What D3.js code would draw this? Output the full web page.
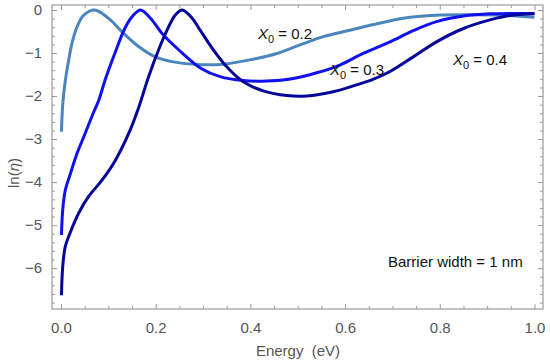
<!DOCTYPE html>
<html>
<head>
<meta charset="utf-8">
<script src="https://cdn.jsdelivr.net/npm/d3@7"></script>
<style>
  html, body { margin: 0; padding: 0; background: #fff; }
  svg { display: block; font-family: "Liberation Sans", Arial, sans-serif; }
</style>
</head>
<body>
<div id="chart"></div>
<script>
// ---- data ----
const energyA = [0.001, 0.0036, 0.009, 0.016, 0.023, 0.034, 0.048, 0.071, 0.10, 0.132, 0.164, 0.199, 0.234, 0.296, 0.343, 0.399, 0.456, 0.505, 0.554, 0.610, 0.655, 0.723, 0.793, 0.864, 0.934, 1.0];
const lnEtaA  = [-2.83, -2.2, -1.65, -1.18, -0.78, -0.39, -0.12, 0, -0.19, -0.54, -0.85, -1.09, -1.20, -1.27, -1.26, -1.16, -1.01, -0.81, -0.62, -0.47, -0.35, -0.19, -0.12, -0.11, -0.12, -0.17];

const energyB = [0.001, 0.0036, 0.009, 0.020, 0.034, 0.051, 0.068, 0.080, 0.094, 0.115, 0.136, 0.153, 0.168, 0.189, 0.213, 0.249, 0.296, 0.336, 0.385, 0.434, 0.491, 0.540, 0.589, 0.638, 0.695, 0.744, 0.793, 0.850, 0.906, 1.0];
const lnEtaB  = [-5.23, -4.65, -4.19, -3.80, -3.33, -2.87, -2.40, -2.09, -1.60, -0.97, -0.40, -0.12, 0, -0.19, -0.54, -0.93, -1.36, -1.55, -1.64, -1.65, -1.59, -1.46, -1.28, -1.01, -0.74, -0.48, -0.27, -0.14, -0.09, -0.08];

const energyC = [0.001, 0.0036, 0.009, 0.020, 0.037, 0.058, 0.087, 0.115, 0.143, 0.163, 0.185, 0.206, 0.224, 0.241, 0.256, 0.277, 0.294, 0.322, 0.350, 0.385, 0.427, 0.477, 0.519, 0.575, 0.624, 0.655, 0.695, 0.744, 0.793, 0.850, 0.906, 0.948, 1.0];
const lnEtaC  = [-6.63, -5.97, -5.50, -5.16, -4.73, -4.34, -3.95, -3.49, -2.87, -2.30, -1.55, -0.93, -0.47, -0.12, 0, -0.19, -0.47, -0.93, -1.32, -1.67, -1.88, -1.99, -2.0, -1.90, -1.74, -1.63, -1.43, -1.09, -0.74, -0.43, -0.23, -0.13, -0.09];

const seriesNames = ["0.2", "0.3", "0.4"];
const seriesColors = ["#4a86bd", "#1010f0", "#05059a"];

const xTickValues = [0, 0.2, 0.4, 0.6, 0.8, 1.0];
const xTickLabels = ["0.0", "0.2", "0.4", "0.6", "0.8", "1.0"];
const yTickValues = [0, -1, -2, -3, -4, -5, -6];
const yTickLabels = ["0", "\u22121", "\u22122", "\u22123", "\u22124", "\u22125", "\u22126"];

const xAxisTitle = "Energy  (eV)";
const noteText = "Barrier width = 1 nm";

// ---- layout ----
const W = 550, H = 364;
const mLeft = 52, mRight = 543, mTop = 5, mBottom = 309;

const x = d3.scaleLinear().domain([-0.019, 1.018]).range([mLeft, mRight]);
const y = d3.scaleLinear().domain([-6.95, 0.116]).range([mBottom, mTop]);

const svg = d3.select("#chart").append("svg").attr("width", W).attr("height", H);

const frameColor = "#9a9a9a";
const labelColor = "#555";

// minor ticks
const xMinor = d3.range(0, 21).map(i => i * 0.05).filter(v => !xTickValues.some(t => Math.abs(t - v) < 1e-9));
const yMinor = d3.range(0, 35).map(i => -i * 0.2).filter(v => v >= -6.95 && !yTickValues.some(t => Math.abs(t - v) < 1e-9));

const g = svg.append("g");

function styleAxis(sel) {
  sel.select(".domain").remove();
  sel.selectAll("line").attr("stroke", frameColor).attr("stroke-width", 1);
  sel.selectAll("text").attr("fill", labelColor).style("font-size", "15px");
}

// bottom
g.append("g").attr("transform", `translate(0,${mBottom})`)
  .call(d3.axisBottom(x).tickValues(xTickValues).tickSizeInner(-5).tickSizeOuter(0).tickPadding(13)
    .tickFormat((d, i) => xTickLabels[i]))
  .call(styleAxis);
g.append("g").attr("transform", `translate(0,${mBottom})`)
  .call(d3.axisBottom(x).tickValues(xMinor).tickSizeInner(-3).tickSizeOuter(0).tickFormat(""))
  .call(styleAxis);
// top
g.append("g").attr("transform", `translate(0,${mTop})`)
  .call(d3.axisTop(x).tickValues(xTickValues).tickSizeInner(-5).tickSizeOuter(0).tickFormat(""))
  .call(styleAxis);
g.append("g").attr("transform", `translate(0,${mTop})`)
  .call(d3.axisTop(x).tickValues(xMinor).tickSizeInner(-3).tickSizeOuter(0).tickFormat(""))
  .call(styleAxis);
// left
g.append("g").attr("transform", `translate(${mLeft},0)`)
  .call(d3.axisLeft(y).tickValues(yTickValues).tickSizeInner(-5).tickSizeOuter(0).tickPadding(10)
    .tickFormat((d, i) => yTickLabels[i]))
  .call(styleAxis);
g.append("g").attr("transform", `translate(${mLeft},0)`)
  .call(d3.axisLeft(y).tickValues(yMinor).tickSizeInner(-3).tickSizeOuter(0).tickFormat(""))
  .call(styleAxis);
// right
g.append("g").attr("transform", `translate(${mRight},0)`)
  .call(d3.axisRight(y).tickValues(yTickValues).tickSizeInner(-5).tickSizeOuter(0).tickFormat(""))
  .call(styleAxis);
g.append("g").attr("transform", `translate(${mRight},0)`)
  .call(d3.axisRight(y).tickValues(yMinor).tickSizeInner(-3).tickSizeOuter(0).tickFormat(""))
  .call(styleAxis);

// frame
svg.append("rect").attr("x", mLeft).attr("y", mTop).attr("width", mRight - mLeft).attr("height", mBottom - mTop)
  .attr("fill", "none").attr("stroke", frameColor).attr("stroke-width", 1.2);

// curves
const line = d3.line().x(d => x(d[0])).y(d => y(d[1])).curve(d3.curveCatmullRom.alpha(0.5));
const allSeries = [
  d3.zip(energyA, lnEtaA),
  d3.zip(energyB, lnEtaB),
  d3.zip(energyC, lnEtaC)
];
allSeries.forEach((pts, i) => {
  svg.append("path").datum(pts).attr("d", line)
    .attr("fill", "none").attr("stroke", seriesColors[i]).attr("stroke-width", 3)
    .attr("stroke-linejoin", "round");
});

// series labels
const labelPos = [[258, 39], [330, 75], [453, 65]];
seriesNames.forEach((name, i) => {
  const t = svg.append("text").attr("x", labelPos[i][0]).attr("y", labelPos[i][1])
    .attr("fill", "#111").style("font-size", "15px");
  t.append("tspan").style("font-style", "italic").text("X");
  t.append("tspan").attr("dy", 4).style("font-size", "11px").text("0");
  t.append("tspan").attr("dy", -4).text(" = " + name);
});

// note
svg.append("text").attr("x", 388).attr("y", 267).attr("fill", "#111").style("font-size", "15px").text(noteText);

// axis titles
svg.append("text").attr("x", 298).attr("y", 356).attr("text-anchor", "middle")
  .attr("fill", labelColor).style("font-size", "15px").style("white-space", "pre").text(xAxisTitle);

const yt = svg.append("text").attr("transform", "translate(19,173) rotate(-90)").attr("text-anchor", "middle")
  .attr("fill", labelColor).style("font-size", "15px");
yt.append("tspan").text("ln(");
yt.append("tspan").style("font-style", "italic").text("\u03B7");
yt.append("tspan").text(")");
</script>
</body>
</html>
